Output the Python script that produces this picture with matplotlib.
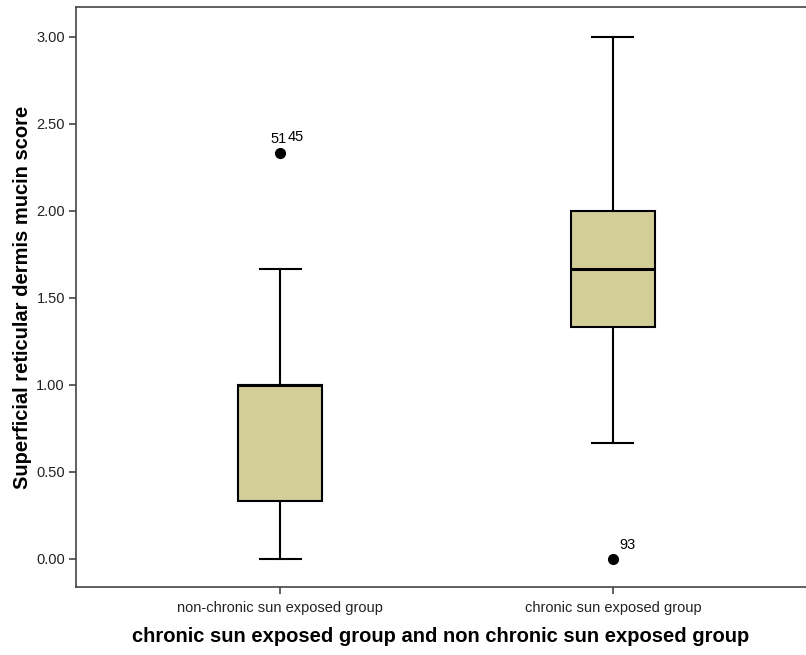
import matplotlib
matplotlib.use("Agg")
import matplotlib.pyplot as plt

# data
groups = ["non-chronic sun exposed group", "chronic sun exposed group"]
whislo = [0.0, 0.667]
q1 = [0.333, 1.333]
med = [1.0, 1.667]
q3 = [1.0, 2.0]
whishi = [1.667, 3.0]
outliers = [[2.333], [0.0]]
outlier_ids = [["51", "45"], ["93"]]
yticks = [0.0, 0.5, 1.0, 1.5, 2.0, 2.5, 3.0]

plt.rcParams['font.family'] = ['Liberation Sans', 'DejaVu Sans']

fig = plt.figure(figsize=(8.06, 6.55), dpi=100)
ax = fig.add_axes([76 / 806, 1 - 587 / 655, 1 - 76 / 806, 580 / 655])

stats = []
for i in range(len(groups)):
    stats.append(dict(whislo=whislo[i], q1=q1[i], med=med[i], q3=q3[i],
                      whishi=whishi[i], fliers=outliers[i]))

pos = [1, 2]
ax.bxp(stats, positions=pos, widths=0.252, patch_artist=True,
       boxprops=dict(facecolor='#D3CE97', edgecolor='black', linewidth=1.5),
       medianprops=dict(color='black', linewidth=2.2),
       whiskerprops=dict(color='black', linewidth=1.5),
       capprops=dict(color='black', linewidth=1.5),
       flierprops=dict(marker='o', markerfacecolor='black', markeredgecolor='black',
                       markersize=7),
       capwidths=0.123)

# outlier case labels (two ids sit side by side on the first point)
ax.text(pos[0] - 0.028, outliers[0][0] + 0.04, outlier_ids[0][0], fontsize=10.5,
        ha='left', va='bottom')
ax.text(pos[0] + 0.022, outliers[0][0] + 0.05, outlier_ids[0][1], fontsize=10.5,
        ha='left', va='bottom')
ax.text(pos[1] + 0.02, outliers[1][0] + 0.04, outlier_ids[1][0], fontsize=10.5,
        ha='left', va='bottom')

ax.set_xlim(0.387, 2.58)
ax.set_ylim(-0.161, 3.172)
ax.set_yticks(yticks)
ax.set_yticklabels([f"{v:.2f}" for v in yticks])
ax.set_xticks(pos)
ax.set_xticklabels(groups)
ax.tick_params(axis='both', labelsize=10.5, labelcolor='#222222', color='#444444',
               length=5, width=1.2, pad=3)
ax.tick_params(axis='x', pad=5)
for s in ['left', 'top', 'bottom']:
    ax.spines[s].set_color('#444444')
    ax.spines[s].set_linewidth(1.2)
ax.spines['right'].set_visible(False)

ax.set_ylabel("Superficial reticular dermis mucin score", fontsize=14.5,
              fontweight='bold', labelpad=3)
ax.set_xlabel("chronic sun exposed group and non chronic sun exposed group",
              fontsize=14.5, fontweight='bold', labelpad=9)

fig.savefig("out.png", dpi=100)
